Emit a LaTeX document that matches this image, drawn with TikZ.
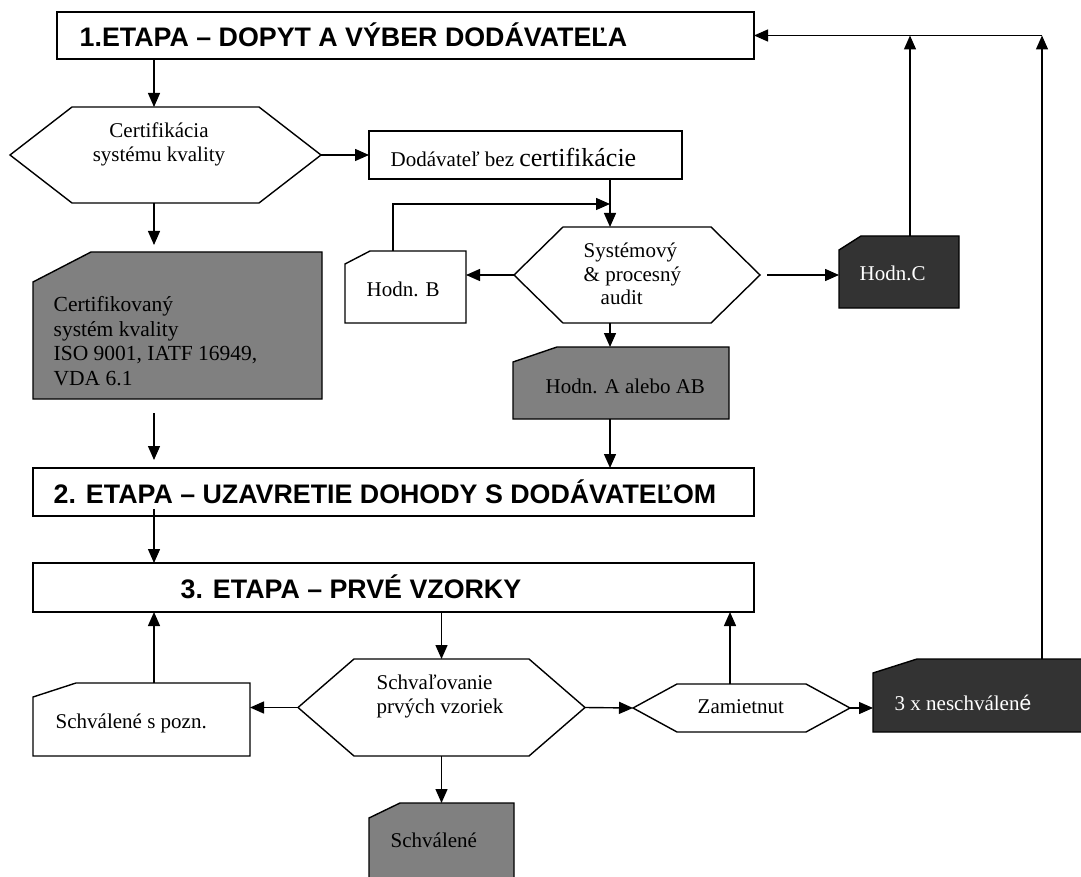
\documentclass[tikz,border=0pt]{standalone}
\usepackage{fontspec}
\setmainfont{Liberation Serif}
\setsansfont{Liberation Sans}
\usepackage{tikz}
\usetikzlibrary{arrows.meta}
\usetikzlibrary{fit}
\usepackage{xcolor}
\definecolor{cardgray}{HTML}{808080}
\definecolor{carddark}{HTML}{333333}

% hexagon round a frame node: node, cut, fill
\newcommand{\hexframe}[3]{%
	\draw[fill = #3] (#1.west) -- ([xshift = #2]#1.north west) -- ([xshift = -#2]#1.north east)
		-- (#1.east) -- ([xshift = -#2]#1.south east) -- ([xshift = #2]#1.south west) -- cycle;}
% card with a cut corner: node, x cut, y cut, fill
\newcommand{\cardframe}[4]{%
	\draw[fill = #4] ([yshift = -#3]#1.north west) -- ([xshift = #2]#1.north west) -- (#1.north east)
		-- (#1.south east) -- (#1.south west) -- cycle;}

\begin{document}
\begin{tikzpicture}[x = 0.5pt, y = -0.5pt, line width = 0.7pt,
	frame/.style = {inner sep = 0pt, outer sep = 0pt},
	stage/.style = {frame, draw},
	arr/.style = {-{Triangle[length = 7pt, width = 6pt]}},
	txt/.style = {anchor = base west, inner sep = 0pt, align = left, font = \fontsize{10.5}{12}\selectfont},
	head/.style = {anchor = base west, inner sep = 0pt, font = \sffamily\bfseries\fontsize{13.4}{16}\selectfont}]
	
	\useasboundingbox (0,0) rectangle (1081,877);
	
	\node[stage, fit = {(57,12) (754,59)}] (etapa1) {};
	\node[stage, fit = {(33,468) (754,516)}] (etapa2) {};
	\node[stage, fit = {(33,563) (754,612)}] (etapa3) {};
	\node[stage, fit = {(369,131) (682,179)}] (bezcert) {};
	\node[frame, fit = {(10,107) (321,203)}] (certif) {};
	\node[frame, fit = {(514,227) (760,323)}] (audit) {};
	\node[frame, fit = {(298,659) (585,756)}] (schval) {};
	\node[frame, fit = {(633,684) (850,732)}] (zamiet) {};
	\node[frame, fit = {(33,252) (322,399)}] (certsys) {};
	\node[frame, fit = {(345,251) (466,323)}] (hodnB) {};
	\node[frame, fit = {(839,236) (959,308)}] (hodnC) {};
	\node[frame, fit = {(513,347) (729,419)}] (hodnA) {};
	\node[frame, fit = {(33,683) (250,756)}] (spozn) {};
	\node[frame, fit = {(369,803) (514,885)}] (schvok) {};
	\node[frame, fit = {(873,659) (1085,732)}] (nesch) {};
	
	\hexframe{certif}{31pt}{white}
	\hexframe{audit}{24.5pt}{white}
	\hexframe{schval}{28pt}{white}
	\hexframe{zamiet}{22pt}{white}
	\cardframe{certsys}{29pt}{15pt}{cardgray}
	\cardframe{hodnB}{12.5pt}{6.5pt}{white}
	\cardframe{hodnC}{11pt}{7pt}{carddark}
	\cardframe{hodnA}{22pt}{7.5pt}{cardgray}
	\cardframe{spozn}{21.5pt}{7pt}{white}
	\cardframe{schvok}{15.5pt}{7.5pt}{cardgray}
	\cardframe{nesch}{22pt}{7pt}{carddark}
	
	\node[head] (t1) at (79,47) {1.ETAPA – DOPYT A VÝBER DODÁVATEĽA};
	\node[head] (t2) at (53,503) {2. ETAPA – UZAVRETIE DOHODY S DODÁVATEĽOM};
	\node[head] (t3) at (180,598) {3. ETAPA – PRVÉ VZORKY};
	\node[txt, anchor = base, align = center] (tcertif) at (159,162) {Certifikácia\\systému kvality};
	\node[txt] (tbez) at (390,167) {Dodávateľ bez {\fontsize{13}{14}\selectfont certifikácie}};
	\node[txt] (taudit) at (583,305) {Systémový\\\& procesný\\\hspace*{8.5pt}audit};
	\node[txt] (thodnB) at (366,297) {Hodn. B};
	\node[txt, text = white] (thodnC) at (859,280) {Hodn.C};
	\node[txt] (thodnA) at (545,393) {Hodn. A alebo AB};
	\node[txt, font = \fontsize{10.75}{12.25}\selectfont] (tcertsys) at (53,385) {Certifikovaný\\systém kvality\\ISO 9001, IATF 16949,\\VDA 6.1};
	\node[txt] (tspozn) at (55,728) {Schválené s pozn.};
	\node[txt] (tschval) at (376,713) {Schvaľovanie\\prvých vzoriek};
	\node[txt] (tzamiet) at (697,713) {Zamietnut};
	\node[txt, text = white] (tnesch) at (894,710) {3 x neschválen{\sffamily é}};
	\node[txt] (tschvok) at (390,847) {Schválené};
	
	\coordinate (colA) at (154,0);
	\coordinate (colB) at (610,0);
	\coordinate (colC) at (393,0);
	\coordinate (colD) at (910,0);
	\coordinate (colE) at (1042,0);
	\coordinate (colG) at (730,0);
	\coordinate (loopy) at (0,204);
	
	\draw[arr] (etapa1.south -| colA) -- (certif.north -| colA);
	\draw[arr, shorten >= 3.5pt] (certif.south -| colA) -- (certsys.north -| colA);
	\draw[arr, shorten <= 7pt, shorten >= 4pt] (certsys.south -| colA) -- (etapa2.north -| colA);
	\draw[arr, shorten <= -3.5pt] (etapa2.south -| colA) -- (etapa3.north -| colA);
	\draw[arr] (spozn.north -| colA) -- (etapa3.south -| colA);
	\draw[arr] (certif.east) -- (bezcert.west);
	\draw[arr] (bezcert.south -| colB) -- (audit.north -| colB);
	\draw[arr] (hodnB.north -| colC) |- (colB |- loopy);
	\draw[arr] (audit.west) -- (audit.west -| hodnB.east);
	\draw[arr, shorten <= 3.5pt] (audit.east) -- (audit.east -| hodnC.west);
	\draw[arr] (audit.south -| colB) -- (hodnA.north -| colB);
	\draw[arr] (hodnA.south -| colB) -- (etapa2.north -| colB);
	\draw[arr] (hodnC.north -| colD) -- (colD |- etapa1.east);
	\draw[arr] (nesch.north -| colE) -- (colE |- etapa1.east);
	\draw[arr] (colE |- etapa1.east) -- (etapa1.east);
	\draw[arr] (etapa3.south -| schval.north) -- (schval.north);
	\draw[arr] (schval.west) -- (schval.west -| spozn.east);
	\draw[arr] (schval.east) -- (zamiet.west);
	\draw[arr] (zamiet.north -| colG) -- (etapa3.south -| colG);
	\draw[arr] (zamiet.east) -- (zamiet.east -| nesch.west);
	\draw[arr] (schval.south) -- (schvok.north);
\end{tikzpicture}
\end{document}
